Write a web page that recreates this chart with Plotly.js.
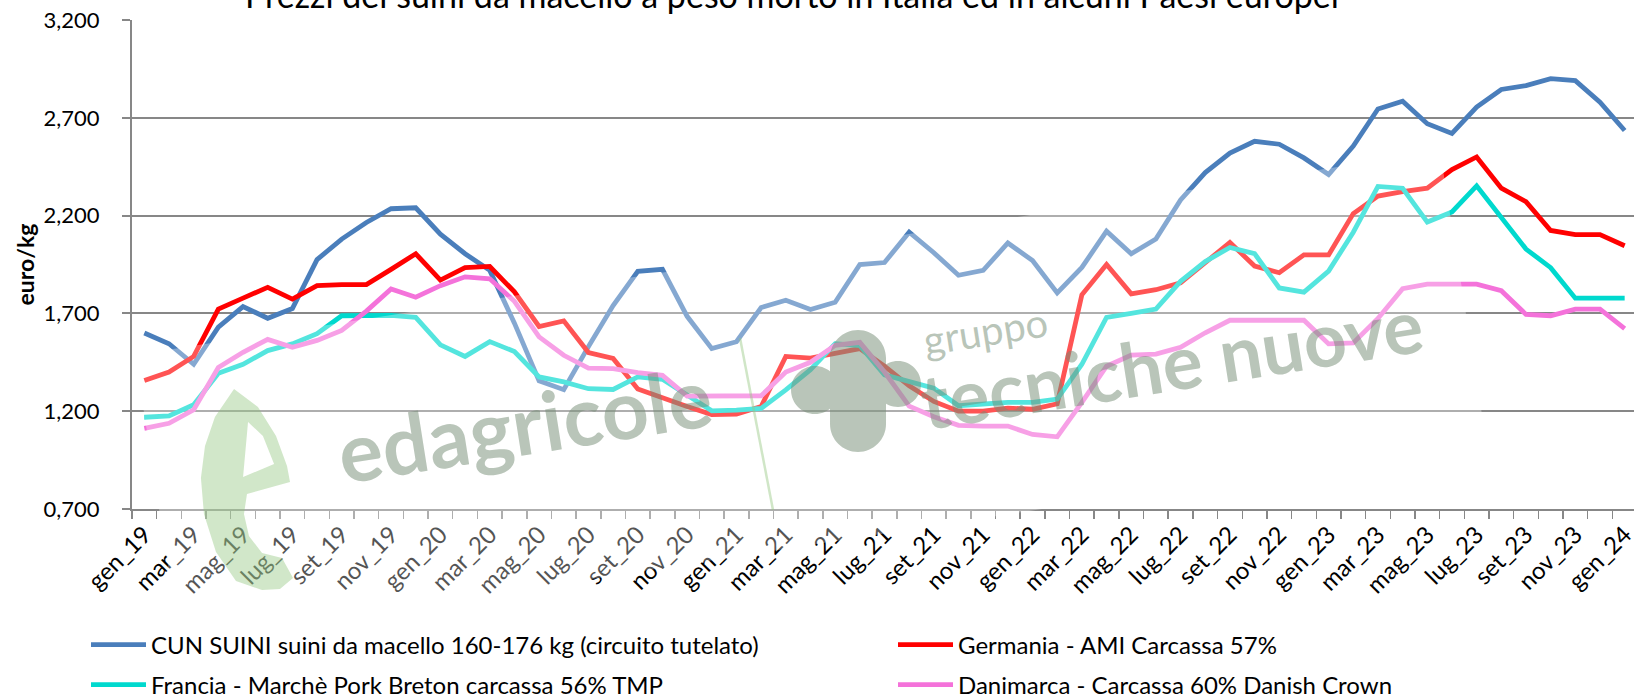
<!DOCTYPE html>
<html>
<head>
<meta charset="utf-8">
<script src="https://cdn.plot.ly/plotly-3.0.1.min.js"></script>
<style>
html,body{margin:0;padding:0;overflow:hidden;background:#fff;}
#chart{width:1650px;height:698px;}
</style>
</head>
<body>
<div id="chart"></div>
<script>
// ---- DATA ----
const months = [
 'gen_19','feb_19','mar_19','apr_19','mag_19','giu_19','lug_19','ago_19','set_19','ott_19','nov_19','dic_19',
 'gen_20','feb_20','mar_20','apr_20','mag_20','giu_20','lug_20','ago_20','set_20','ott_20','nov_20','dic_20',
 'gen_21','feb_21','mar_21','apr_21','mag_21','giu_21','lug_21','ago_21','set_21','ott_21','nov_21','dic_21',
 'gen_22','feb_22','mar_22','apr_22','mag_22','giu_22','lug_22','ago_22','set_22','ott_22','nov_22','dic_22',
 'gen_23','feb_23','mar_23','apr_23','mag_23','giu_23','lug_23','ago_23','set_23','ott_23','nov_23','dic_23',
 'gen_24'
];
const cunSuini = [
 1.600,1.545,1.440,1.630,1.735,1.675,1.725,1.975,2.080,2.165,2.235,2.240,
 2.105,2.005,1.920,1.650,1.355,1.310,1.530,1.740,1.915,1.925,1.685,1.520,
 1.555,1.730,1.767,1.720,1.757,1.950,1.960,2.115,2.010,1.895,1.920,2.060,
 1.970,1.805,1.935,2.120,2.005,2.080,2.280,2.420,2.520,2.580,2.565,2.495,
 2.410,2.555,2.745,2.785,2.670,2.620,2.755,2.845,2.865,2.900,2.890,2.780,
 2.635
];
const germania = [
 1.357,1.400,1.480,1.722,1.778,1.833,1.773,1.842,1.847,1.847,1.925,2.005,
 1.870,1.934,1.940,1.810,1.633,1.662,1.500,1.470,1.314,1.268,1.224,1.183,
 1.185,1.224,1.480,1.471,1.497,1.520,1.430,1.330,1.250,1.200,1.200,1.216,
 1.210,1.238,1.795,1.950,1.800,1.821,1.856,1.960,2.063,1.942,1.908,1.999,
 1.999,2.210,2.300,2.323,2.340,2.435,2.500,2.340,2.271,2.124,2.103,2.103,
 2.046
];
const francia = [
 1.169,1.176,1.233,1.394,1.440,1.510,1.544,1.596,1.688,1.688,1.690,1.680,
 1.539,1.480,1.556,1.505,1.375,1.350,1.315,1.311,1.375,1.363,1.285,1.202,
 1.205,1.214,1.309,1.412,1.545,1.535,1.386,1.352,1.318,1.228,1.236,1.245,
 1.245,1.262,1.440,1.680,1.700,1.722,1.864,1.965,2.037,2.006,1.830,1.809,
 1.916,2.115,2.349,2.340,2.167,2.219,2.352,2.193,2.029,1.934,1.778,1.778,
 1.778
];
const danimarca = [
 1.112,1.138,1.207,1.423,1.501,1.567,1.527,1.562,1.613,1.712,1.825,1.783,
 1.842,1.887,1.877,1.762,1.580,1.486,1.420,1.418,1.397,1.383,1.277,1.277,
 1.278,1.279,1.400,1.450,1.537,1.552,1.400,1.226,1.172,1.128,1.124,1.124,
 1.081,1.069,1.245,1.430,1.487,1.492,1.527,1.601,1.665,1.665,1.665,1.665,
 1.544,1.549,1.674,1.826,1.850,1.850,1.850,1.816,1.695,1.688,1.722,1.722,
 1.622
];
const seriesNames = [
 'CUN SUINI suini da macello 160-176 kg (circuito tutelato)',
 'Germania - AMI Carcassa 57%',
 'Francia - Marchè Pork Breton carcassa 56% TMP',
 'Danimarca - Carcassa 60% Danish Crown'
];
const titleText = 'Prezzi dei suini da macello a peso morto in Italia ed in alcuni Paesi europei';
const yTitle = 'euro/kg';

// ---- STYLE ----
const colors = ['#4A7EBB','#FF0000','#00D9CE','#F472DA'];
const FONT = 'Lato, "Open Sans", sans-serif';
const W = 1650, H = 698, ML = 132, MR = 13, MT = 20, MB = 189;
const PW = W - ML - MR, PH = H - MT - MB;
const px = x => (x - ML) / PW;
const py = y => (H - MB - y) / PH;
const pt = (x, y) => px(x).toFixed(4) + ',' + py(y).toFixed(4);

const xIdx = months.map((m, i) => i);
const tickIdx = xIdx.filter(i => i % 2 === 0);
const tickTxt = tickIdx.map(i => months[i]);
const minorVals = months.map((m, i) => i - 0.5).concat([months.length - 0.5]);

const allSeries = [cunSuini, germania, francia, danimarca];
const legendOf = ['legend', 'legend2', 'legend3', 'legend4'];
const traces = allSeries.map((s, k) => ({
  type: 'scatter', mode: 'lines', x: xIdx, y: s, name: seriesNames[k],
  legend: legendOf[k],
  line: {color: colors[k], width: 4.8, shape: 'linear'},
  hoverinfo: 'x+y'
}));

const grid = '#878787';

// ---- watermark (decoration, pixel-placed) ----
const toPath = pts => 'M' + pts.map(p => pt(p[0], p[1])).join(' L') + ' Z';
function circlePath(cx, cy, r) {
  const k = 0.5523 * r;
  return 'M' + pt(cx + r, cy) +
    ' C' + pt(cx + r, cy + k) + ' ' + pt(cx + k, cy + r) + ' ' + pt(cx, cy + r) +
    ' C' + pt(cx - k, cy + r) + ' ' + pt(cx - r, cy + k) + ' ' + pt(cx - r, cy) +
    ' C' + pt(cx - r, cy - k) + ' ' + pt(cx - k, cy - r) + ' ' + pt(cx, cy - r) +
    ' C' + pt(cx + k, cy - r) + ' ' + pt(cx + r, cy - k) + ' ' + pt(cx + r, cy) + ' Z';
}
const overlay = [[135,355],[1440,151],[1486,440],[180,643]];
const eOuter = [[262,590],[236,581],[216,552],[204,514],[201,478],[205,446],[215,417],[234,389],
                [258,407],[276,436],[287,466],[290,482],[247,494],[244,514],[249,536],[262,553],
                [282,558],[293,578],[280,589]];
const eHole = [[243,477],[248,422],[263,436],[274,464]];
const logoPath = [circlePath(858, 358, 28), toPath([[830,358],[886,358],[886,424],[830,424]]),
                  circlePath(858, 424, 28), circlePath(815, 390, 24), circlePath(898, 384, 23)].join(' ');
const wmGrey = 'rgba(115,140,115,0.5)';
const shapes = [
  {type:'path', xref:'paper', yref:'paper', layer:'above', path: toPath(overlay),
   fillcolor:'rgba(255,255,255,0.33)', line:{width:0}},
  {type:'path', xref:'paper', yref:'paper', layer:'above',
   path: toPath(eOuter) + ' ' + toPath(eHole), fillrule:'evenodd',
   fillcolor:'rgba(140,195,120,0.40)', line:{width:0}},
  {type:'line', xref:'paper', yref:'paper', layer:'above',
   x0:px(740), y0:py(338), x1:px(773), y1:py(510),
   line:{color:'rgba(150,200,130,0.45)', width:2.5}},
  {type:'path', xref:'paper', yref:'paper', layer:'above', path: logoPath, fillrule:'nonzero',
   fillcolor: wmGrey, line:{width:0}}
];

const annotations = [
  {xref:'paper', yref:'paper', x:px(792), y:py(17), xanchor:'center', yanchor:'bottom',
   text:titleText, showarrow:false, font:{family:FONT, size:34, color:'#000'}},
  {xref:'paper', yref:'paper', x:px(524), y:py(423), xanchor:'center', yanchor:'middle',
   text:'edagricole', showarrow:false,
   textangle:-9, font:{family:FONT, size:82, color:wmGrey, weight:'bold'}},
  {xref:'paper', yref:'paper', x:px(985), y:py(331), xanchor:'center', yanchor:'middle',
   text:'gruppo', showarrow:false,
   textangle:-9, font:{family:FONT, size:40, color:wmGrey}},
  {xref:'paper', yref:'paper', x:px(1171), y:py(362), xanchor:'center', yanchor:'middle',
   text:'tecniche nuove', showarrow:false,
   textangle:-9, font:{family:FONT, size:75, color:wmGrey, weight:'bold'}}
];

const legendBase = {orientation: 'h', xanchor: 'left', yanchor: 'middle', itemwidth: 55,
  font: {family: FONT, size: 24, color: '#000'}, bgcolor: 'rgba(0,0,0,0)'};
const layout = {
  width: W, height: H,
  margin: {l: ML, r: MR, t: MT, b: MB, autoexpand: false},
  paper_bgcolor: '#fff', plot_bgcolor: '#fff',
  separators: ',.',
  font: {family: FONT, color: '#000'},
  showlegend: true,
  legend:  Object.assign({}, legendBase, {x: px(86),  y: py(645)}),
  legend2: Object.assign({}, legendBase, {x: px(893), y: py(645)}),
  legend3: Object.assign({}, legendBase, {x: px(86),  y: py(685)}),
  legend4: Object.assign({}, legendBase, {x: px(893), y: py(685)}),
  xaxis: {
    type: 'linear', range: [-0.5, months.length - 0.5], autorange: false,
    tickmode: 'array', tickvals: tickIdx, ticktext: tickTxt, tickangle: -45,
    ticks: '', showgrid: false, zeroline: false,
    showline: true, linecolor: grid, linewidth: 2,
    tickfont: {family: FONT, size: 24, color: '#000'},
    minor: {tickmode: 'array', tickvals: minorVals, ticks: 'outside', ticklen: 8,
            tickwidth: 1.5, tickcolor: grid, showgrid: false}
  },
  yaxis: {
    range: [0.7, 3.2], autorange: false, dtick: 0.5, tick0: 0.7,
    tickformat: '.3f', showgrid: true, gridcolor: grid, gridwidth: 2,
    zeroline: false, showline: true, linecolor: grid, linewidth: 2,
    ticks: 'outside', ticklen: 8, tickwidth: 2, tickcolor: grid,
    ticklabelstandoff: 18,
    tickfont: {family: FONT, size: 22, color: '#000'},
    title: {text: yTitle, standoff: 3, font: {family: FONT, size: 23, color: '#000', weight: 'bold'}}
  },
  shapes: shapes,
  annotations: annotations
};

Plotly.newPlot('chart', traces, layout, {displayModeBar: false, staticPlot: true});
</script>
</body>
</html>
